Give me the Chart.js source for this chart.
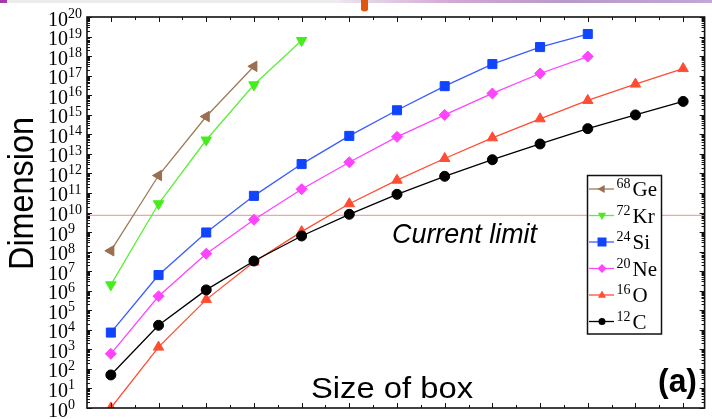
<!DOCTYPE html>
<html><head><meta charset="utf-8">
<script src="https://cdn.jsdelivr.net/npm/chart.js@4.4.0/dist/chart.umd.min.js"></script>
<style>html,body{margin:0;padding:0;background:#fff;overflow:hidden}#wrap{width:712px;height:419px;position:relative}</style>
</head><body><div id="wrap"><canvas id="c" width="712" height="419"></canvas></div>
<script>
// ---- data ----
const boxSizes = [1,2,3,4,5,6,7,8,9,10,11,12,13];
const massNumbers = ['68','72','24','20','16','12'];
const elements = ['Ge','Kr','Si','Ne','O','C'];
const ge68 = [1.1e8, 7.8e11, 8.1e14, 3.0e17];
const kr72 = [2.0e6, 2.8e10, 5.1e13, 3.4e16, 6.3e18];
const si24 = [7.2e3, 6.3e6, 9.5e8, 7.1e10, 3.0e12, 8.3e13, 1.7e15, 2.9e16, 3.9e17, 2.9e18, 1.35e19];
const ne20 = [5.9e2, 5.2e5, 7.8e7, 4.3e9, 1.55e11, 3.7e12, 7.4e13, 9.8e14, 1.23e16, 1.29e17, 9.5e17];
const o16  = [1.0e0, 1.3e3, 3.5e5, 2.9e7, 1.05e9, 2.8e10, 4.5e11, 5.8e12, 6.6e13, 6.2e14, 5.4e15, 3.7e16, 2.3e17];
const c12  = [4.9e1, 1.7e4, 1.1e6, 3.3e7, 6.3e8, 8.1e9, 8.5e10, 7.1e11, 5.0e12, 3.2e13, 1.95e14, 9.8e14, 4.8e15];
const currentLimit = 7.2e9;
const yTickExponents = [0,1,2,3,4,5,6,7,8,9,10,11,12,13,14,15,16,17,18,19,20];

// ---- styles ----
const styles = [
  {line:'#a07a58', fill:'#9a7050', ps:'triangle', rot:-90, r:6},
  {line:'#5cee3a', fill:'#44ee1a', ps:'triangle', rot:180, r:6},
  {line:'#3a5cff', fill:'#1044ff', ps:'rect', rot:0, r:6.4},
  {line:'#ff44ff', fill:'#ff44ff', ps:'rectRot', rot:0, r:5.5},
  {line:'#ff4d33', fill:'#ff4d33', ps:'triangle', rot:0, r:6},
  {line:'#000000', fill:'#000000', ps:'circle', rot:0, r:5}
];
const seriesValues = [ge68, kr72, si24, ne20, o16, c12];

const datasets = seriesValues.map((vals, s) => ({
  label: massNumbers[s] + elements[s],
  data: vals.map((v, i) => ({x: boxSizes[i], y: v})),
  borderColor: styles[s].line,
  backgroundColor: styles[s].fill,
  pointBackgroundColor: styles[s].fill,
  pointBorderColor: styles[s].fill,
  pointStyle: styles[s].ps,
  pointRotation: styles[s].rot,
  pointRadius: styles[s].r,
  pointBorderWidth: 1,
  borderWidth: 1.3,
  tension: 0,
  order: 6 - s
}));

function fitText(ctx, text, x, y, font, width, align) {
  ctx.font = font;
  const w = ctx.measureText(text).width;
  const sx = width ? width / w : 1;
  ctx.save();
  ctx.translate(x, y);
  ctx.scale(sx, 1);
  ctx.textAlign = align || 'left';
  ctx.textBaseline = 'alphabetic';
  ctx.fillText(text, 0, 0);
  ctx.restore();
}

function drawMarker(ctx, st, x, y, r) {
  ctx.save();
  ctx.fillStyle = st.fill;
  ctx.translate(x, y);
  ctx.rotate(st.rot * Math.PI / 180);
  ctx.beginPath();
  if (st.ps === 'triangle') {
    ctx.moveTo(0, -r); ctx.lineTo(r * 0.9, r * 0.6); ctx.lineTo(-r * 0.9, r * 0.6); ctx.closePath();
  } else if (st.ps === 'rect') {
    ctx.rect(-r, -r, 2 * r, 2 * r);
  } else if (st.ps === 'rectRot') {
    ctx.moveTo(0, -r); ctx.lineTo(r, 0); ctx.lineTo(0, r); ctx.lineTo(-r, 0); ctx.closePath();
  } else {
    ctx.arc(0, 0, r, 0, Math.PI * 2);
  }
  ctx.fill();
  ctx.restore();
}

const decor = {
  id: 'decor',
  beforeDraw(chart) {
    const ctx = chart.ctx;
    ctx.save();
    ctx.fillStyle = '#fff';
    ctx.fillRect(0, 0, 712, 419);
    // top strip (image edge)
    ctx.fillStyle = '#ececec';
    ctx.fillRect(0, 0, 712, 3);
    ctx.fillStyle = '#a43aa8';
    ctx.fillRect(0, 0, 7, 3);
    const g = ctx.createLinearGradient(340, 0, 712, 0);
    g.addColorStop(0, '#ece4ee'); g.addColorStop(0.3, '#d2a8d4'); g.addColorStop(0.6, '#b89ac8'); g.addColorStop(1, '#c2a6d6');
    ctx.fillStyle = g;
    ctx.fillRect(340, 0, 372, 3);
    ctx.fillStyle = '#e0560e';
    ctx.beginPath();
    ctx.moveTo(361, 0); ctx.lineTo(368, 0); ctx.lineTo(368, 10); ctx.quadraticCurveTo(364.5, 13, 361, 10); ctx.closePath();
    ctx.fill();
    ctx.restore();
  },
  beforeDatasetsDraw(chart) {
    const ctx = chart.ctx, a = chart.chartArea, ys = chart.scales.y;
    const y = ys.getPixelForValue(currentLimit);
    ctx.save();
    ctx.strokeStyle = '#f08c8c';
    ctx.lineWidth = 1;
    ctx.beginPath(); ctx.moveTo(a.left, y); ctx.lineTo(a.right, y); ctx.stroke();
    ctx.restore();
  },
  afterDraw(chart) {
    const ctx = chart.ctx, a = chart.chartArea, xs = chart.scales.x, ys = chart.scales.y;
    ctx.save();
    ctx.strokeStyle = '#111';
    ctx.lineWidth = 1;
    // x ticks (top & bottom), inward
    for (let v = 1; v <= 13.001; v += 0.5) {
      const px = Math.round(xs.getPixelForValue(v)) + 0.5;
      const len = Number.isInteger(v) ? 5 : 3;
      ctx.beginPath();
      ctx.moveTo(px, a.bottom); ctx.lineTo(px, a.bottom - len);
      ctx.moveTo(px, a.top); ctx.lineTo(px, a.top + len);
      ctx.stroke();
    }
    // y log ticks (left & right), inward
    for (let d = 0; d <= 20; d++) {
      for (let k = 1; k <= 9; k++) {
        if (d === 20 && k > 1) break;
        const py = Math.round(ys.getPixelForValue(k * Math.pow(10, d))) + 0.5;
        const len = k === 1 ? 5 : 3;
        ctx.beginPath();
        ctx.moveTo(a.left, py); ctx.lineTo(a.left + len, py);
        ctx.moveTo(a.right, py); ctx.lineTo(a.right - len, py);
        ctx.stroke();
      }
    }
    // frame
    ctx.lineWidth = 1.6;
    ctx.strokeStyle = '#111';
    ctx.strokeRect(a.left, a.top, a.right - a.left, a.bottom - a.top);

    // y tick labels 10^n
    ctx.fillStyle = '#000';
    yTickExponents.forEach(e => {
      const py = ys.getPixelForValue(Math.pow(10, e));
      fitText(ctx, '10', 68, py + 8.5, '20px "Liberation Serif"', 0, 'right');
      fitText(ctx, String(e), 68, py + 1, '14px "Liberation Serif"', 0, 'left');
    });

    // axis titles & annotations
    ctx.fillStyle = '#000';
    ctx.save();
    ctx.translate(33, 193.5);
    ctx.rotate(-Math.PI / 2);
    fitText(ctx, 'Dimension', 0, 0, '35px "Liberation Sans"', 153, 'center');
    ctx.restore();
    fitText(ctx, 'Size of box', 311, 398, '30px "Liberation Sans"', 162, 'left');
    fitText(ctx, '(a)', 658, 392, 'bold 33px "Liberation Sans"', 39, 'left');
    fitText(ctx, 'Current limit', 392, 243, 'italic 28px "Liberation Sans"', 145, 'left');

    // legend
    const lx = 587.5, ly = 175.5, lw = 74, lh = 158.5;
    ctx.fillStyle = '#fff';
    ctx.fillRect(lx, ly, lw, lh);
    ctx.lineWidth = 1.5;
    ctx.strokeStyle = '#111';
    ctx.strokeRect(lx, ly, lw, lh);
    const baselines = [196, 222.5, 249, 275.5, 302, 328.5];
    styles.forEach((st, s) => {
      const by = baselines[s];
      const my = by - 7;
      ctx.strokeStyle = st.line;
      ctx.lineWidth = 1.3;
      ctx.beginPath(); ctx.moveTo(589, my); ctx.lineTo(614, my); ctx.stroke();
      drawMarker(ctx, st, 602, my, st.ps === 'circle' ? 3.5 : 4.5);
      ctx.fillStyle = '#000';
      fitText(ctx, massNumbers[s], 616.5, by - 8, '14px "Liberation Serif"', 0, 'left');
      fitText(ctx, elements[s], 632.5, by, '21px "Liberation Serif"', 0, 'left');
    });
    ctx.restore();
  }
};

new Chart(document.getElementById('c'), {
  type: 'line',
  data: { datasets },
  options: {
    responsive: false,
    devicePixelRatio: 1,
    animation: false,
    layout: { padding: { left: 87, right: 4, top: 17, bottom: 11 } },
    plugins: { legend: { display: false }, tooltip: { enabled: false } },
    scales: {
      x: {
        type: 'linear', min: 0.5, max: 13.45,
        grid: { display: false }, border: { display: false },
        ticks: { display: false },
        afterFit: s => { s.height = 0; }
      },
      y: {
        type: 'logarithmic', min: 1, max: 1e20,
        grid: { display: false }, border: { display: false },
        ticks: { display: false },
        afterFit: s => { s.width = 0; }
      }
    }
  },
  plugins: [decor]
});
</script>
</body></html>
